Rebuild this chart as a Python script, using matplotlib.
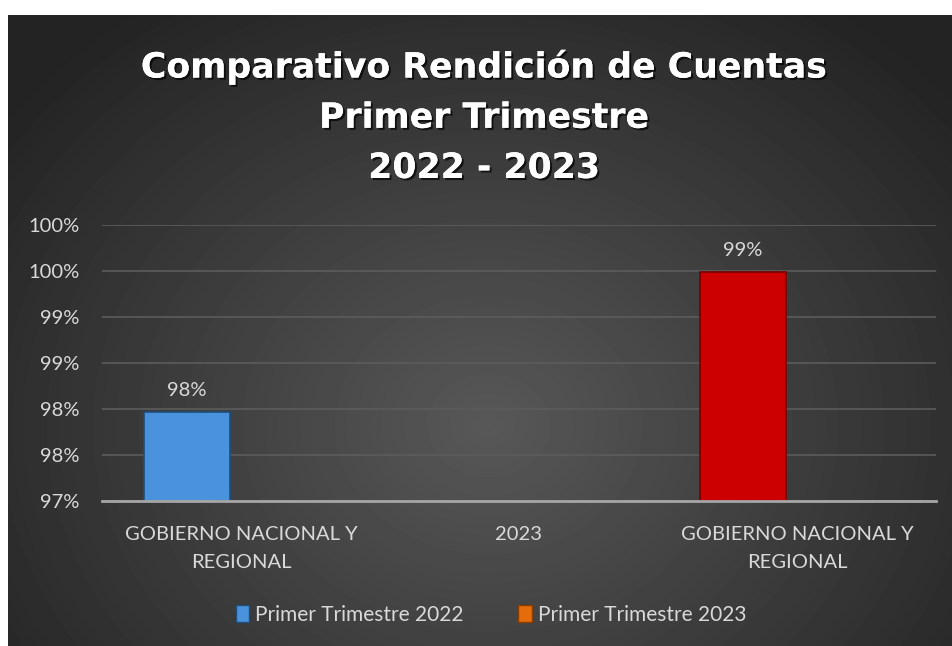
import math
import numpy as np
import matplotlib
matplotlib.use("Agg")
import matplotlib.pyplot as plt
import matplotlib.patheffects as pe
from matplotlib.patches import Patch
from matplotlib.ticker import FuncFormatter, MultipleLocator

# Datos
categorias = ["GOBIERNO NACIONAL Y\nREGIONAL", "2023", "GOBIERNO NACIONAL Y\nREGIONAL"]
valores_2022 = [0.9797, np.nan, np.nan]
valores_2023 = [np.nan, np.nan, 0.9949]
series = ["Primer Trimestre 2022", "Primer Trimestre 2023"]
titulo = "Comparativo Rendición de Cuentas\nPrimer Trimestre\n2022 - 2023"

plt.rcParams["font.family"] = ["Lato", "DejaVu Sans"]
txt = "#d9d9d9"


def pct(v, pos=None):
    # redondeo como Excel (mitad hacia arriba)
    return f"{math.floor(v * 100 + 0.5 + 1e-9):d}%"


fig = plt.figure(figsize=(9.52, 6.46), dpi=100, facecolor="white")

# Fondo con degradado radial
bg = fig.add_axes([8 / 952, 0, 944 / 952, 631 / 646])
yy, xx = np.mgrid[0:631, 0:944]
r = np.sqrt(((xx - 480) / 620.0) ** 2 + ((yy - 410) / 520.0) ** 2)
img = np.clip(0.345 - 0.21 * r, 0.14, 0.345)
bg.imshow(img, cmap="gray", vmin=0, vmax=1, aspect="auto", interpolation="bilinear")
bg.axis("off")

ax = fig.add_axes([102 / 952, 145 / 646, 834 / 952, 276 / 646])
ax.patch.set_alpha(0)

x = np.arange(len(categorias))
desp = -0.194
ancho = 0.31
b1 = ax.bar(x + desp, valores_2022, ancho, color="#4a93dc", edgecolor="#1f4e79", linewidth=1.2, zorder=3)
b2 = ax.bar(x + desp, valores_2023, ancho, color="#cc0000", edgecolor="#7a0000", linewidth=1.2, zorder=3)

# Etiquetas de datos
for barras, vals in [(b1, valores_2022), (b2, valores_2023)]:
    for rect, v in zip(barras, vals):
        if not np.isnan(v):
            ax.annotate(pct(v), (rect.get_x() + rect.get_width() / 2, v),
                        xytext=(0, 9), textcoords="offset points",
                        ha="center", va="bottom", color=txt, fontsize=14.5)

ax.set_ylim(0.97, 1.0)
ax.set_xlim(-0.5, 2.5)
ax.yaxis.set_major_locator(MultipleLocator(0.005))
ax.yaxis.set_major_formatter(FuncFormatter(pct))
ax.set_xticks(x)
ax.set_xticklabels(categorias, linespacing=1.75)
ax.tick_params(axis="both", length=0, colors=txt, labelsize=14.5)
ax.tick_params(axis="y", pad=16)
ax.tick_params(axis="x", pad=18)
ax.grid(axis="y", color="#5c5c5c", linewidth=1.2, zorder=0)
for s in ["top", "right", "left"]:
    ax.spines[s].set_visible(False)
ax.spines["bottom"].set_color("#a6a6a6")
ax.spines["bottom"].set_linewidth(2)
ax.spines["bottom"].set_zorder(4)

# Titulo
fig.text(484 / 952, 1 - 117 / 646, titulo, ha="center", va="center", color="white",
         fontsize=25, fontweight="bold", linespacing=1.6,
         family=["DejaVu Sans"],
         path_effects=[pe.withSimplePatchShadow(offset=(1.5, -1.5), shadow_rgbFace="black", alpha=0.7), pe.Normal()])

# Leyenda
handles = [Patch(facecolor="#4a93dc", edgecolor="#1f4e79"), Patch(facecolor="#e46c0a", edgecolor="#8a3d00")]
leg = fig.legend(handles, series, loc="center", bbox_to_anchor=(491 / 952, 1 - 615 / 646),
                 ncol=2, frameon=False, fontsize=15, labelcolor=txt,
                 handlelength=0.65, handleheight=0.9, handletextpad=0.3, columnspacing=2.6)

fig.savefig("out.png", dpi=100, facecolor="white")
